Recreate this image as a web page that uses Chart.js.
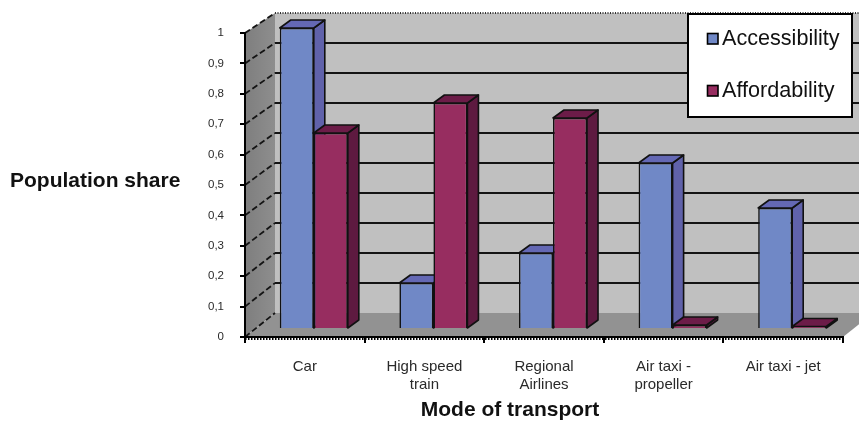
<!DOCTYPE html>
<html>
<head>
<meta charset="utf-8">
<title>Population share by mode of transport</title>
<style>
  html,body{margin:0;padding:0;background:#fff;}
  #wrap{width:859px;height:421px;overflow:hidden;}
</style>
</head>
<body>
<div id="wrap"><canvas id="shareChart" width="859" height="421"></canvas></div>
<script src="https://cdn.jsdelivr.net/npm/chart.js@4/dist/chart.umd.min.js"></script>
<script>
// Data
const categories = ['Car',['High speed','train'],['Regional','Airlines'],['Air taxi -','propeller'],'Air taxi - jet'];
const accessibility = [1,0.15,0.25,0.55,0.4];
const affordability = [0.65,0.75,0.7,0.01,0.005];
const yTickLabels = ['0','0,1','0,2','0,3','0,4','0,5','0,6','0,7','0,8','0,9','1'];

(function(){
  const FONT = '"Liberation Sans", Arial, sans-serif';
  const COLORS = {
    blue:{front:'#7088c6',side:'#6062aa',top:'#6468b4'},
    red:{front:'#972d60',side:'#5e1a40',top:'#6c1c48'}
  };
  // how far the bars and the back wall sit behind the axis plane
  const BAR_SHIFT = 9;
  const BAR_DEPTH = {x:11,y:-8};
  const WALL_DX = 30;
  const WALL_UP = 15;

  function poly(ctx,pts,fill){
    ctx.beginPath();
    pts.forEach((p,i)=> i ? ctx.lineTo(p[0],p[1]) : ctx.moveTo(p[0],p[1]));
    ctx.closePath();
    ctx.fillStyle = fill;
    ctx.fill();
  }

  // Walls, floor and gridlines behind everything
  const roomPlugin = {
    id:'room',
    beforeDraw(chart){
      const {ctx,chartArea:a,scales} = chart;
      const y = scales.y, bars = scales.bars;
      const wallY = v => bars.getPixelForValue(v) - WALL_UP;
      const backX = a.left + WALL_DX;
      const farX = a.right + WALL_DX;
      ctx.save();
      poly(ctx,[[backX,wallY(1)],[farX,wallY(1)],[farX,wallY(0)],[backX,wallY(0)]],'#c0c0c0');
      const g = ctx.createLinearGradient(a.left,0,backX,0);
      g.addColorStop(0,'#7e7e7e');
      g.addColorStop(1,'#8e8e8e');
      poly(ctx,[[a.left,y.getPixelForValue(1)],[backX,wallY(1)],[backX,wallY(0)],[a.left,y.getPixelForValue(0)]],g);
      poly(ctx,[[a.left,y.getPixelForValue(0)],[backX,wallY(0)],[farX,wallY(0)],[a.right,y.getPixelForValue(0)]],'#929292');

      ctx.strokeStyle = '#141414';
      y.ticks.forEach(t=>{
        // dashed part on the side wall
        ctx.lineWidth = 1.8;
        ctx.setLineDash([6,3]);
        ctx.beginPath();
        ctx.moveTo(a.left,y.getPixelForValue(t.value));
        ctx.lineTo(backX,wallY(t.value));
        ctx.stroke();
        ctx.setLineDash([]);
        if(t.value > 0 && t.value < 1){
          ctx.lineWidth = 2;
          ctx.beginPath();
          ctx.moveTo(backX,wallY(t.value));
          ctx.lineTo(farX,wallY(t.value));
          ctx.stroke();
        }
      });

      // dotted top edge of the back wall
      ctx.strokeStyle = '#333';
      ctx.lineWidth = 2;
      ctx.setLineDash([1,1.5]);
      ctx.beginPath();
      ctx.moveTo(backX,wallY(1));
      ctx.lineTo(farX,wallY(1));
      ctx.stroke();

      // small marks along the category axis
      ctx.strokeStyle = '#000';
      ctx.lineWidth = 3;
      ctx.setLineDash([1.5,1.5]);
      const base = y.getPixelForValue(0);
      ctx.beginPath();
      ctx.moveTo(a.left,base + 1.5);
      ctx.lineTo(a.right,base + 1.5);
      ctx.stroke();
      ctx.setLineDash([]);
      ctx.restore();
    }
  };

  // Paint the series left to right so each red bar covers the blue side face.
  // Side and top faces are added here, the controller paints the front face.
  const depthPlugin = {
    id:'depth',
    beforeDatasetsDraw(chart){
      const {ctx} = chart;
      const dx = BAR_DEPTH.x, dy = BAR_DEPTH.y;
      ctx.save();
      ctx.translate(BAR_SHIFT,0);
      chart.data.datasets.forEach((d,i)=>{
        const meta = chart.getDatasetMeta(i);
        ctx.save();
        ctx.strokeStyle = '#111';
        ctx.lineWidth = 1.6;
        ctx.lineJoin = 'round';
        meta.data.forEach(el=>{
          const l = el.x - el.width/2, r = el.x + el.width/2;
          poly(ctx,[[r,el.y],[r+dx,el.y+dy],[r+dx,el.base+dy],[r,el.base]],d.faces.side);
          ctx.stroke();
          poly(ctx,[[l,el.y],[l+dx,el.y+dy],[r+dx,el.y+dy],[r,el.y]],d.faces.top);
          ctx.stroke();
        });
        ctx.restore();
        meta.controller.draw();
      });
      ctx.restore();
      return false;
    }
  };

  // Axis titles and the boxed legend
  const labelsPlugin = {
    id:'labels',
    afterDraw(chart){
      const {ctx} = chart;
      ctx.save();
      ctx.fillStyle = '#111';
      ctx.textBaseline = 'middle';
      ctx.font = 'bold 21px '+FONT;
      ctx.textAlign = 'center';
      ctx.fillText('Mode of transport',510,410);
      ctx.textAlign = 'left';
      ctx.fillText('Population share',10,181);

      ctx.fillStyle = '#fff';
      ctx.strokeStyle = '#000';
      ctx.lineWidth = 2;
      ctx.fillRect(688,14,164,103);
      ctx.strokeRect(688,14,164,103);
      ctx.font = '21.6px '+FONT;
      ctx.lineWidth = 1.6;
      const rows = [39,91];
      chart.data.datasets.forEach((d,i)=>{
        ctx.fillStyle = d.backgroundColor;
        ctx.fillRect(707.5,rows[i]-5.5,10.5,10.5);
        ctx.strokeRect(707.5,rows[i]-5.5,10.5,10.5);
        ctx.fillStyle = '#111';
        ctx.fillText(d.label,722,rows[i]);
      });
      ctx.restore();
    }
  };

  new Chart(document.getElementById('shareChart'),{
    type:'bar',
    plugins:[roomPlugin,depthPlugin,labelsPlugin],
    data:{
      labels:categories,
      datasets:[
        {label:'Accessibility',data:accessibility,yAxisID:'bars',
          backgroundColor:COLORS.blue.front,faces:COLORS.blue,borderColor:'#111',borderWidth:1.6,
          categoryPercentage:0.569,barPercentage:1},
        {label:'Affordability',data:affordability,yAxisID:'bars',
          backgroundColor:COLORS.red.front,faces:COLORS.red,borderColor:'#111',borderWidth:1.6,
          categoryPercentage:0.569,barPercentage:1}
      ]
    },
    options:{
      responsive:false,
      animation:false,
      layout:{padding:{top:33,right:16,left:0,bottom:0}},
      plugins:{legend:{display:false},tooltip:{enabled:false}},
      scales:{
        x:{
          offset:true,
          grid:{offset:true,drawOnChartArea:false,tickLength:6,color:'#000',lineWidth:2},
          border:{color:'#000',width:2},
          ticks:{color:'#2a2a2a',font:{family:FONT,size:15,lineHeight:1.2},padding:15,maxRotation:0,autoSkip:false},
          afterFit(s){ s.height = 84; }
        },
        y:{
          position:'left',
          min:0,max:1,
          grid:{drawOnChartArea:false,tickLength:5,color:'#000',lineWidth:2},
          border:{color:'#000',width:2},
          ticks:{stepSize:0.1,color:'#2a2a2a',font:{family:FONT,size:11.5},padding:16,callback:(v,i)=>yTickLabels[i]},
          afterFit(s){ s.width = 245; }
        },
        // plane the bars stand on, further back than the value axis
        bars:{
          type:'linear',
          display:false,
          min:-0.03,max:0.98333
        }
      }
    }
  });
})();
</script>
</body>
</html>
